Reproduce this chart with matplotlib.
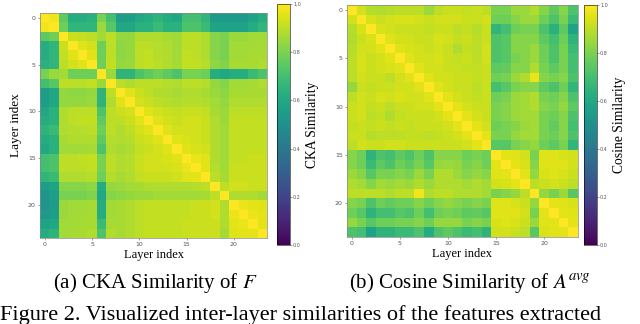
import numpy as np
import matplotlib
matplotlib.use("Agg")
import matplotlib.pyplot as plt

plt.rcParams['mathtext.fontset'] = 'stix'

# CKA similarity of F (24 layers)
cka_rows = [
    [1.00, 0.98, 0.75, 0.62, 0.62, 0.64, 0.80, 0.70, 0.56, 0.56, 0.60, 0.62, 0.65, 0.62, 0.60, 0.70, 0.70, 0.66, 0.55, 0.55, 0.55, 0.55, 0.58, 0.62],
    [0.98, 1.00, 0.78, 0.66, 0.66, 0.66, 0.85, 0.74, 0.60, 0.60, 0.64, 0.64, 0.68, 0.64, 0.64, 0.72, 0.72, 0.68, 0.58, 0.58, 0.58, 0.58, 0.62, 0.66],
    [0.75, 0.78, 1.00, 0.92, 0.91, 0.90, 0.86, 0.90, 0.84, 0.84, 0.88, 0.88, 0.88, 0.87, 0.86, 0.90, 0.90, 0.88, 0.82, 0.80, 0.85, 0.85, 0.86, 0.86],
    [0.62, 0.66, 0.92, 1.00, 0.95, 0.93, 0.78, 0.90, 0.83, 0.84, 0.90, 0.90, 0.89, 0.88, 0.86, 0.90, 0.90, 0.88, 0.82, 0.80, 0.86, 0.86, 0.86, 0.87],
    [0.62, 0.66, 0.91, 0.95, 1.00, 0.95, 0.78, 0.90, 0.83, 0.84, 0.90, 0.91, 0.89, 0.88, 0.86, 0.91, 0.90, 0.88, 0.82, 0.80, 0.86, 0.86, 0.87, 0.87],
    [0.64, 0.66, 0.90, 0.93, 0.95, 1.00, 0.78, 0.91, 0.84, 0.85, 0.90, 0.91, 0.90, 0.88, 0.87, 0.91, 0.91, 0.89, 0.83, 0.81, 0.87, 0.87, 0.87, 0.88],
    [0.80, 0.85, 0.86, 0.78, 0.78, 0.78, 1.00, 0.85, 0.65, 0.65, 0.72, 0.75, 0.78, 0.75, 0.72, 0.80, 0.80, 0.78, 0.62, 0.60, 0.62, 0.62, 0.68, 0.72],
    [0.70, 0.74, 0.90, 0.90, 0.90, 0.91, 0.85, 1.00, 0.90, 0.88, 0.90, 0.90, 0.90, 0.89, 0.88, 0.90, 0.90, 0.89, 0.84, 0.82, 0.86, 0.86, 0.87, 0.88],
    [0.56, 0.60, 0.84, 0.83, 0.83, 0.84, 0.65, 0.90, 1.00, 0.95, 0.92, 0.90, 0.88, 0.88, 0.87, 0.88, 0.88, 0.87, 0.85, 0.83, 0.87, 0.87, 0.87, 0.87],
    [0.56, 0.60, 0.84, 0.84, 0.84, 0.85, 0.65, 0.88, 0.95, 1.00, 0.93, 0.92, 0.90, 0.89, 0.88, 0.89, 0.89, 0.88, 0.86, 0.84, 0.88, 0.88, 0.88, 0.88],
    [0.60, 0.64, 0.88, 0.90, 0.90, 0.90, 0.72, 0.90, 0.92, 0.93, 1.00, 0.95, 0.93, 0.92, 0.91, 0.92, 0.92, 0.91, 0.87, 0.85, 0.90, 0.90, 0.90, 0.90],
    [0.62, 0.64, 0.88, 0.90, 0.91, 0.91, 0.75, 0.90, 0.90, 0.92, 0.95, 1.00, 0.95, 0.93, 0.92, 0.93, 0.93, 0.92, 0.88, 0.85, 0.91, 0.91, 0.91, 0.91],
    [0.65, 0.68, 0.88, 0.89, 0.89, 0.90, 0.78, 0.90, 0.88, 0.90, 0.93, 0.95, 1.00, 0.95, 0.93, 0.93, 0.93, 0.92, 0.88, 0.86, 0.91, 0.91, 0.91, 0.91],
    [0.62, 0.64, 0.87, 0.88, 0.88, 0.88, 0.75, 0.89, 0.88, 0.89, 0.92, 0.93, 0.95, 1.00, 0.95, 0.94, 0.93, 0.92, 0.88, 0.86, 0.91, 0.91, 0.91, 0.91],
    [0.60, 0.64, 0.86, 0.86, 0.86, 0.87, 0.72, 0.88, 0.87, 0.88, 0.91, 0.92, 0.93, 0.95, 1.00, 0.95, 0.94, 0.93, 0.88, 0.86, 0.91, 0.91, 0.91, 0.91],
    [0.70, 0.72, 0.90, 0.90, 0.91, 0.91, 0.80, 0.90, 0.88, 0.89, 0.92, 0.93, 0.93, 0.94, 0.95, 1.00, 0.97, 0.95, 0.88, 0.86, 0.91, 0.91, 0.92, 0.92],
    [0.70, 0.72, 0.90, 0.90, 0.90, 0.91, 0.80, 0.90, 0.88, 0.89, 0.92, 0.93, 0.93, 0.93, 0.94, 0.97, 1.00, 0.96, 0.89, 0.86, 0.92, 0.92, 0.92, 0.92],
    [0.66, 0.68, 0.88, 0.88, 0.88, 0.89, 0.78, 0.89, 0.87, 0.88, 0.91, 0.92, 0.92, 0.92, 0.93, 0.95, 0.96, 1.00, 0.90, 0.87, 0.92, 0.92, 0.92, 0.92],
    [0.55, 0.58, 0.82, 0.82, 0.82, 0.83, 0.62, 0.84, 0.85, 0.86, 0.87, 0.88, 0.88, 0.88, 0.88, 0.88, 0.89, 0.90, 1.00, 0.90, 0.93, 0.93, 0.92, 0.92],
    [0.53, 0.56, 0.80, 0.80, 0.80, 0.81, 0.60, 0.82, 0.83, 0.84, 0.85, 0.85, 0.86, 0.86, 0.86, 0.86, 0.86, 0.87, 0.90, 1.00, 0.88, 0.88, 0.88, 0.86],
    [0.52, 0.55, 0.85, 0.86, 0.86, 0.87, 0.62, 0.86, 0.87, 0.88, 0.90, 0.91, 0.91, 0.91, 0.91, 0.91, 0.92, 0.92, 0.93, 0.88, 1.00, 0.97, 0.96, 0.95],
    [0.54, 0.56, 0.85, 0.86, 0.86, 0.87, 0.62, 0.86, 0.87, 0.88, 0.90, 0.91, 0.91, 0.91, 0.91, 0.91, 0.92, 0.92, 0.93, 0.88, 0.97, 1.00, 0.97, 0.96],
    [0.58, 0.60, 0.86, 0.86, 0.87, 0.87, 0.68, 0.87, 0.87, 0.88, 0.90, 0.91, 0.91, 0.91, 0.91, 0.92, 0.92, 0.92, 0.92, 0.88, 0.96, 0.97, 1.00, 0.96],
    [0.62, 0.65, 0.86, 0.87, 0.87, 0.88, 0.72, 0.88, 0.87, 0.88, 0.90, 0.91, 0.91, 0.91, 0.91, 0.92, 0.92, 0.92, 0.92, 0.86, 0.95, 0.96, 0.96, 1.00],
]

# cosine similarity of A^avg (24 layers)
cos_rows = [
    [1.00, 0.93, 0.89, 0.88, 0.89, 0.90, 0.90, 0.90, 0.85, 0.90, 0.92, 0.92, 0.91, 0.92, 0.90, 0.80, 0.80, 0.85, 0.85, 0.88, 0.82, 0.75, 0.82, 0.72],
    [0.93, 1.00, 0.94, 0.92, 0.93, 0.94, 0.94, 0.93, 0.92, 0.93, 0.93, 0.93, 0.92, 0.92, 0.93, 0.78, 0.78, 0.82, 0.85, 0.85, 0.78, 0.72, 0.80, 0.68],
    [0.89, 0.94, 1.00, 0.94, 0.93, 0.92, 0.92, 0.92, 0.91, 0.92, 0.92, 0.90, 0.91, 0.89, 0.92, 0.66, 0.70, 0.78, 0.80, 0.80, 0.72, 0.64, 0.75, 0.58],
    [0.88, 0.92, 0.94, 1.00, 0.95, 0.93, 0.93, 0.92, 0.92, 0.94, 0.93, 0.91, 0.92, 0.90, 0.92, 0.72, 0.74, 0.82, 0.82, 0.82, 0.75, 0.70, 0.78, 0.65],
    [0.89, 0.93, 0.93, 0.95, 1.00, 0.95, 0.94, 0.93, 0.92, 0.93, 0.92, 0.88, 0.91, 0.90, 0.93, 0.72, 0.74, 0.82, 0.82, 0.85, 0.78, 0.72, 0.80, 0.68],
    [0.90, 0.94, 0.92, 0.93, 0.95, 1.00, 0.95, 0.93, 0.93, 0.94, 0.92, 0.91, 0.92, 0.90, 0.93, 0.72, 0.74, 0.80, 0.82, 0.85, 0.78, 0.72, 0.80, 0.70],
    [0.90, 0.94, 0.92, 0.93, 0.94, 0.95, 1.00, 0.95, 0.93, 0.93, 0.92, 0.92, 0.91, 0.91, 0.92, 0.75, 0.76, 0.82, 0.82, 0.88, 0.80, 0.75, 0.80, 0.70],
    [0.90, 0.93, 0.92, 0.92, 0.90, 0.93, 0.95, 1.00, 0.95, 0.93, 0.93, 0.92, 0.92, 0.91, 0.92, 0.78, 0.80, 0.85, 0.88, 0.97, 0.82, 0.80, 0.82, 0.72],
    [0.84, 0.92, 0.91, 0.92, 0.92, 0.93, 0.93, 0.95, 1.00, 0.95, 0.93, 0.92, 0.92, 0.90, 0.92, 0.70, 0.74, 0.80, 0.82, 0.82, 0.75, 0.72, 0.78, 0.66],
    [0.90, 0.93, 0.92, 0.94, 0.93, 0.94, 0.93, 0.93, 0.95, 1.00, 0.96, 0.93, 0.92, 0.91, 0.92, 0.78, 0.80, 0.85, 0.86, 0.88, 0.80, 0.78, 0.82, 0.72],
    [0.92, 0.93, 0.91, 0.92, 0.90, 0.92, 0.92, 0.93, 0.93, 0.96, 1.00, 0.96, 0.93, 0.92, 0.92, 0.80, 0.82, 0.85, 0.86, 0.88, 0.82, 0.80, 0.84, 0.75],
    [0.92, 0.93, 0.90, 0.91, 0.88, 0.91, 0.92, 0.92, 0.92, 0.93, 0.96, 1.00, 0.96, 0.93, 0.92, 0.80, 0.82, 0.85, 0.86, 0.86, 0.80, 0.78, 0.82, 0.72],
    [0.91, 0.92, 0.91, 0.92, 0.91, 0.92, 0.91, 0.92, 0.92, 0.92, 0.93, 0.96, 1.00, 0.96, 0.93, 0.78, 0.80, 0.82, 0.85, 0.86, 0.80, 0.76, 0.82, 0.70],
    [0.92, 0.92, 0.89, 0.90, 0.90, 0.90, 0.91, 0.91, 0.90, 0.91, 0.92, 0.93, 0.96, 1.00, 0.96, 0.80, 0.80, 0.84, 0.86, 0.86, 0.80, 0.78, 0.82, 0.72],
    [0.90, 0.93, 0.92, 0.92, 0.93, 0.93, 0.92, 0.92, 0.92, 0.92, 0.92, 0.92, 0.93, 0.96, 1.00, 0.74, 0.74, 0.80, 0.82, 0.84, 0.78, 0.75, 0.80, 0.66],
    [0.82, 0.78, 0.65, 0.72, 0.70, 0.75, 0.72, 0.78, 0.72, 0.82, 0.82, 0.82, 0.78, 0.80, 0.78, 1.00, 0.96, 0.95, 0.93, 0.80, 0.95, 0.95, 0.94, 0.93],
    [0.82, 0.78, 0.68, 0.75, 0.72, 0.78, 0.75, 0.80, 0.74, 0.84, 0.85, 0.84, 0.80, 0.82, 0.78, 0.96, 1.00, 0.96, 0.94, 0.82, 0.95, 0.95, 0.95, 0.93],
    [0.85, 0.82, 0.74, 0.80, 0.80, 0.82, 0.80, 0.85, 0.80, 0.88, 0.88, 0.85, 0.82, 0.84, 0.82, 0.95, 0.96, 1.00, 0.96, 0.84, 0.94, 0.95, 0.94, 0.92],
    [0.88, 0.86, 0.82, 0.86, 0.85, 0.86, 0.85, 0.88, 0.85, 0.88, 0.88, 0.88, 0.86, 0.88, 0.86, 0.93, 0.94, 0.96, 1.00, 0.90, 0.92, 0.93, 0.92, 0.90],
    [0.90, 0.90, 0.90, 0.90, 0.88, 0.90, 0.90, 0.98, 0.88, 0.90, 0.90, 0.88, 0.88, 0.88, 0.86, 0.80, 0.82, 0.84, 0.90, 1.00, 0.84, 0.80, 0.85, 0.74],
    [0.82, 0.80, 0.72, 0.78, 0.76, 0.78, 0.78, 0.82, 0.78, 0.82, 0.84, 0.82, 0.80, 0.82, 0.80, 0.95, 0.95, 0.94, 0.92, 0.84, 1.00, 0.96, 0.95, 0.94],
    [0.78, 0.74, 0.65, 0.70, 0.70, 0.74, 0.72, 0.78, 0.70, 0.78, 0.80, 0.78, 0.75, 0.76, 0.74, 0.95, 0.95, 0.95, 0.93, 0.80, 0.96, 1.00, 0.96, 0.95],
    [0.84, 0.80, 0.74, 0.78, 0.78, 0.80, 0.80, 0.82, 0.78, 0.84, 0.84, 0.84, 0.80, 0.82, 0.80, 0.94, 0.95, 0.94, 0.92, 0.85, 0.95, 0.96, 1.00, 0.96],
    [0.72, 0.70, 0.58, 0.65, 0.65, 0.68, 0.68, 0.72, 0.62, 0.72, 0.75, 0.72, 0.68, 0.70, 0.65, 0.93, 0.93, 0.92, 0.90, 0.74, 0.94, 0.95, 0.96, 1.00],
]

layer_ticks = [0, 5, 10, 15, 20]
cbar_ticks = [0.0, 0.2, 0.4, 0.6, 0.8, 1.0]

serif = ['Liberation Serif', 'DejaVu Serif']

fig = plt.figure(figsize=(6.4, 3.24), dpi=100)

def panel(rect, crect, data, cbar_label, ylabel):
    ax = fig.add_axes(rect)
    im = ax.imshow(np.array(data), cmap='viridis', vmin=0, vmax=1,
                   interpolation='nearest', aspect='auto')
    ax.set_xticks(layer_ticks)
    ax.set_yticks(layer_ticks)
    ax.tick_params(labelsize=4.5, length=1.5, width=0.4, pad=1.5,
                   colors='#555555')
    for s in ax.spines.values():
        s.set_linewidth(0.5)
        s.set_color('#888888')
    ax.set_xlabel('Layer index', family=serif, fontsize=9, labelpad=1)
    if ylabel:
        ax.set_ylabel('Layer index', family=serif, fontsize=9.5, labelpad=4)
    cax = fig.add_axes(crect)
    cb = fig.colorbar(im, cax=cax, ticks=cbar_ticks)
    cb.outline.set_linewidth(0.4)
    cb.ax.tick_params(labelsize=3.5, length=1.2, width=0.4, pad=1,
                      colors='#555555')
    cb.set_label(cbar_label, family=serif, fontsize=9.8, labelpad=4)
    return ax

panel([40/640, 1-238/324, 227/640, 225/324],
      [277/640, 1-245/324, 13/640, 241/324],
      cka_rows, 'CKA Similarity', True)
panel([347/640, 1-237/324, 231/640, 232/324],
      [584/640, 1-245/324, 13/640, 240/324],
      cos_rows, 'Cosine Similarity', False)

fig.text(155/640, 1-283/324, '(a) CKA Similarity of $F$', family=serif,
         fontsize=15, ha='center', va='center')
fig.text(470/640, 1-283/324, '(b) Cosine Similarity of $A^{avg}$',
         family=serif, fontsize=15, ha='center', va='center')
fig.text(0.0, 1-320/324, 'Figure 2. Visualized inter-layer similarities of the features extracted',
         family=serif, fontsize=16, ha='left', va='baseline')

fig.savefig('out.png', dpi=100)
